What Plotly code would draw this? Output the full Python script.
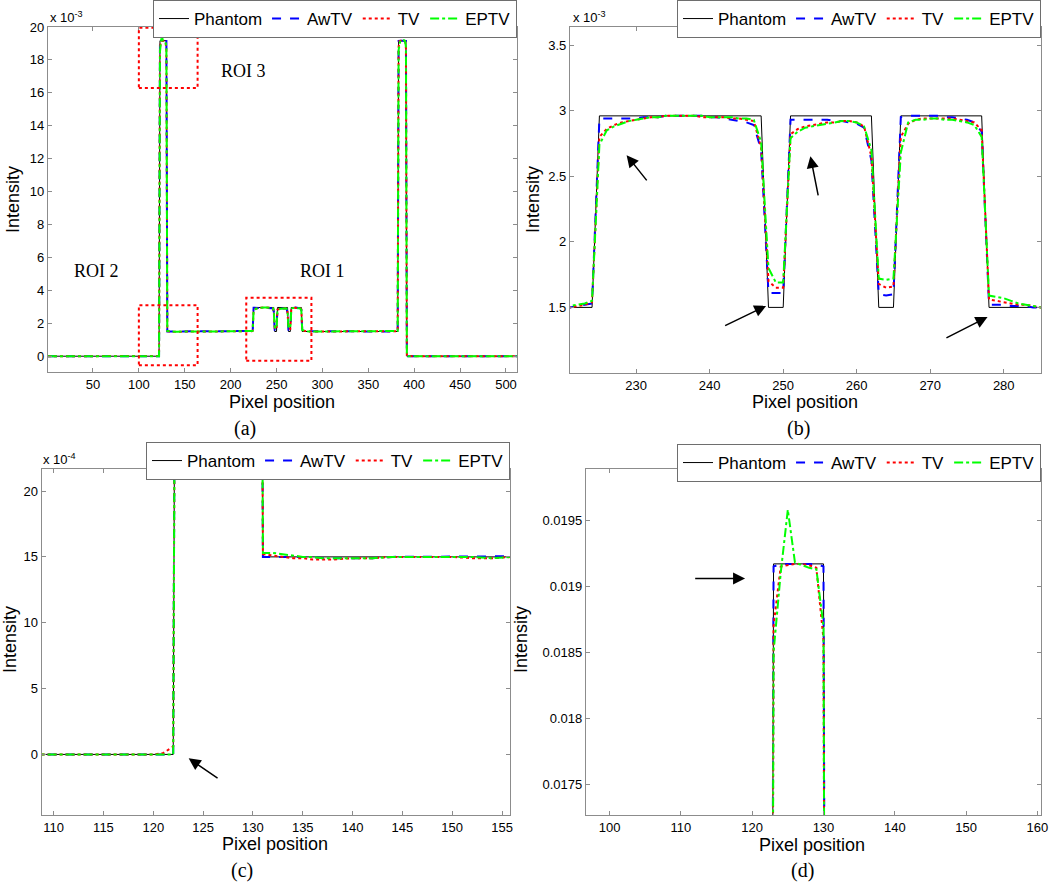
import numpy as np
import plotly.graph_objects as go

W, H = 1050, 882

# ---------------- data (intensity in units of 1e-3) ----------------
pix_left = [1, 50, 100, 110, 115, 118, 120, 121, 122]
pix_peak1 = [123, 124, 125, 126, 127, 128, 129, 130, 131]
pix_mid = [132, 133, 134, 135, 136, 137, 138, 140, 142, 144, 146, 148, 150, 152, 154, 156, 160, 180, 200, 215, 220]
pix_roi1 = list(range(221, 286))
pix_right = [290, 320, 350, 380, 381, 382, 383, 384, 385, 386, 387, 388, 389, 390, 391, 392, 393, 400, 450, 512]

phantom_left = [0, 0, 0, 0, 0, 0, 0, 0, 0]
awtv_left = [0, 0, 0, 0, 0, 0, 0, 0, 0]
tv_left = [0, 0, 0, 0, 0, 0, 0, 0.01, 0.06]
eptv_left = [0, 0, 0, 0, 0, 0, 0, 0, 0]

phantom_peak1 = [19.17, 19.17, 19.17, 19.17, 19.17, 19.17, 19.17, 19.17, 1.50]
awtv_peak1 = [19.15, 19.17, 19.17, 19.17, 19.17, 19.17, 19.17, 19.15, 1.50]
tv_peak1 = [18.70, 19.15, 19.16, 19.17, 19.17, 19.16, 19.14, 18.60, 1.52]
eptv_peak1 = [18.50, 19.10, 19.58, 19.18, 19.16, 19.14, 19.13, 18.70, 1.53]

phantom_mid = [1.50] * 21
awtv_mid = [1.50, 1.50, 1.50, 1.50, 1.50, 1.49, 1.49, 1.49, 1.49, 1.50, 1.50, 1.50, 1.50, 1.50, 1.50, 1.50, 1.50, 1.50, 1.50, 1.50, 1.50]
tv_mid = [1.51, 1.50, 1.49, 1.49, 1.48, 1.48, 1.48, 1.49, 1.49, 1.50, 1.50, 1.50, 1.50, 1.49, 1.49, 1.50, 1.50, 1.50, 1.50, 1.50, 1.50]
eptv_mid = [1.53, 1.52, 1.51, 1.50, 1.50, 1.49, 1.49, 1.49, 1.49, 1.50, 1.50, 1.50, 1.50, 1.50, 1.49, 1.50, 1.50, 1.50, 1.50, 1.50, 1.51]

phantom_roi1 = ([1.50] * 4 + [2.96] * 23 + [1.50] * 3 + [2.96] * 12 + [1.50] * 3 + [2.96] * 12 + [1.50] * 8)
awtv_roi1 = [1.50, 1.51, 1.52, 1.53, 2.94, 2.94, 2.94, 2.94, 2.94, 2.94, 2.95, 2.95, 2.95, 2.96, 2.96, 2.96,
             2.96, 2.96, 2.96, 2.95, 2.95, 2.94, 2.93, 2.92, 2.91, 2.89, 2.70, 1.61, 1.61, 1.61,
             2.93, 2.93, 2.93, 2.93, 2.93, 2.93, 2.92, 2.92, 2.91, 2.90, 2.87, 2.62, 1.60, 1.59, 1.60,
             2.95, 2.96, 2.96, 2.96, 2.96, 2.96, 2.95, 2.95, 2.94, 2.93, 2.91, 2.84,
             1.52, 1.52, 1.52, 1.51, 1.51, 1.51, 1.50, 1.50]
tv_roi1 = [1.50, 1.51, 1.52, 1.54, 2.80, 2.86, 2.89, 2.91, 2.92, 2.93, 2.94, 2.95, 2.95, 2.96, 2.96, 2.96,
           2.96, 2.96, 2.95, 2.95, 2.95, 2.95, 2.94, 2.94, 2.93, 2.92, 2.72, 1.70, 1.65, 1.65,
           2.82, 2.86, 2.88, 2.89, 2.90, 2.91, 2.91, 2.92, 2.92, 2.91, 2.88, 2.65, 1.68, 1.65, 1.66,
           2.80, 2.90, 2.93, 2.94, 2.94, 2.94, 2.94, 2.94, 2.93, 2.92, 2.91, 2.85,
           1.56, 1.55, 1.54, 1.53, 1.52, 1.52, 1.51, 1.50]
eptv_roi1 = [1.51, 1.52, 1.53, 1.55, 2.74, 2.85, 2.88, 2.90, 2.92, 2.93, 2.94, 2.95, 2.95, 2.96, 2.96, 2.96,
             2.96, 2.96, 2.96, 2.95, 2.95, 2.95, 2.95, 2.94, 2.94, 2.93, 2.76, 1.80, 1.69, 1.69,
             2.79, 2.84, 2.87, 2.88, 2.89, 2.90, 2.91, 2.92, 2.92, 2.91, 2.88, 2.70, 1.72, 1.71, 1.72,
             2.68, 2.91, 2.93, 2.93, 2.94, 2.94, 2.93, 2.93, 2.92, 2.91, 2.89, 2.80,
             1.59, 1.58, 1.57, 1.55, 1.53, 1.52, 1.51, 1.50]

phantom_right = [1.50, 1.50, 1.50, 1.50, 1.50, 1.50, 19.17, 19.17, 19.17, 19.17, 19.17, 19.17, 19.17, 19.17, 19.17, 0, 0, 0, 0, 0]
awtv_right = [1.50, 1.50, 1.50, 1.50, 1.50, 1.50, 19.15, 19.17, 19.17, 19.17, 19.17, 19.17, 19.17, 19.17, 19.15, 0, 0, 0, 0, 0]
tv_right = [1.50, 1.50, 1.50, 1.50, 1.50, 1.52, 18.80, 19.15, 19.17, 19.17, 19.17, 19.17, 19.17, 19.15, 18.70, 0.05, 0.01, 0, 0, 0]
eptv_right = [1.50, 1.50, 1.50, 1.50, 1.50, 1.53, 18.60, 19.10, 19.20, 19.20, 19.20, 19.20, 19.20, 19.15, 18.80, 0.05, 0, 0, 0, 0]

pixels = pix_left + pix_peak1 + pix_mid + pix_roi1 + pix_right
series = {
    "Phantom": phantom_left + phantom_peak1 + phantom_mid + phantom_roi1 + phantom_right,
    "AwTV": awtv_left + awtv_peak1 + awtv_mid + awtv_roi1 + awtv_right,
    "TV": tv_left + tv_peak1 + tv_mid + tv_roi1 + tv_right,
    "EPTV": eptv_left + eptv_peak1 + eptv_mid + eptv_roi1 + eptv_right,
}
UNIT = 1e-3

styles = {
    "Phantom": dict(color="#000000", width=1, dash="solid"),
    "AwTV": dict(color="#0000ff", width=2, dash="dash"),
    "TV": dict(color="#ff0000", width=2, dash="dot"),
    "EPTV": dict(color="#00ff00", width=2, dash="dashdot"),
}

# tick labels
a_xticks = [50, 100, 150, 200, 250, 300, 350, 400, 450, 500]
a_yticks = [0, 2, 4, 6, 8, 10, 12, 14, 16, 18, 20]          # x 1e-3
b_xticks = [230, 240, 250, 260, 270, 280]
b_yticks = [1.5, 2, 2.5, 3, 3.5]                            # x 1e-3
c_xticks = [110, 115, 120, 125, 130, 135, 140, 145, 150, 155]
c_yticks = [0, 5, 10, 15, 20]                               # x 1e-4
d_xticks = [100, 110, 120, 130, 140, 150, 160]
d_yticks = [0.0175, 0.018, 0.0185, 0.019, 0.0195]

# ROI boxes in panel (a): (x0, x1, y0, y1) in pixel / 1e-3 units
roi_boxes = [(100, 164, 16.3, 19.95), (100, 164, -0.55, 3.1), (217, 288, -0.28, 3.55)]
roi_labels = [("ROI 3", 214, 17.3), ("ROI 2", 54, 5.2), ("ROI 1", 300, 5.2)]


def fx(p):
    return p / W


def fy(p):
    return 1 - p / H


fig = go.Figure()

panels = [
    ("a", "x", "y", "legend", (48, 517), (27, 372), [1, 512], [-0.00096, 0.0200]),
    ("b", "x2", "y2", "legend2", (570, 1041), (27.3, 373), [221, 285.07], [0.0010, 0.003635]),
    ("c", "x3", "y3", "legend3", (41.7, 510), (469.3, 815), [108.8, 155.8], [-0.00046, 0.002165]),
    ("d", "x4", "y4", "legend4", (586, 1041), (469, 815), [96.7, 160.5], [0.017267, 0.019889]),
]

legend_pos = {
    "legend": (517, 0),
    "legend2": (1041, 0),
    "legend3": (510, 442),
    "legend4": (1041, 444),
}

tick_sets = {
    "a": (a_xticks, [str(v) for v in a_xticks], [v * 1e-3 for v in a_yticks], [str(v) for v in a_yticks]),
    "b": (b_xticks, [str(v) for v in b_xticks], [v * 1e-3 for v in b_yticks], [("%g" % v) for v in b_yticks]),
    "c": (c_xticks, [str(v) for v in c_xticks], [v * 1e-4 for v in c_yticks], [str(v) for v in c_yticks]),
    "d": (d_xticks, [str(v) for v in d_xticks], d_yticks, [("%g" % v) for v in d_yticks]),
}

FONT = "Liberation Sans, Arial, sans-serif"
SERIF = "Liberation Serif, Times New Roman, serif"

layout = dict(
    width=W, height=H, margin=dict(l=0, r=0, t=0, b=0, autoexpand=False),
    paper_bgcolor="white", plot_bgcolor="white",
    font=dict(family=FONT, size=13, color="black"),
    showlegend=True,
)

for name, xa, ya, lg, (x0, x1), (yt, yb), xr, yr in panels:
    for sname in ["Phantom", "AwTV", "TV", "EPTV"]:
        fig.add_trace(go.Scatter(
            x=pixels, y=np.array(series[sname]) * UNIT, mode="lines", name=sname,
            line=styles[sname], xaxis=xa, yaxis=ya, legend=lg, hoverinfo="skip",
        ))
    xk = "xaxis" if xa == "x" else "xaxis" + xa[1:]
    yk = "yaxis" if ya == "y" else "yaxis" + ya[1:]
    xt, xtt, yt_, ytt = tick_sets[name]
    axcommon = dict(showline=True, linecolor="#8c8c8c", linewidth=1.2, mirror="ticks",
                    ticks="inside", ticklen=4, tickcolor="#8c8c8c", showgrid=False,
                    zeroline=False, tickfont=dict(family=FONT, size=13, color="black"))
    layout[xk] = dict(domain=[fx(x0), fx(x1)], range=xr, anchor=ya, tickvals=xt, ticktext=xtt, **axcommon)
    layout[yk] = dict(domain=[fy(yb), fy(yt)], range=yr, anchor=xa, tickvals=yt_, ticktext=ytt, **axcommon)
    lx, ly = legend_pos[lg]
    layout[lg] = dict(orientation="h", x=fx(lx), y=fy(ly), xanchor="right", yanchor="top",
                      bgcolor="white", bordercolor="#6e6e6e", borderwidth=1,
                      font=dict(family=FONT, size=17, color="black"),
                      itemwidth=30, tracegroupgap=0)

fig.update_layout(**layout)

annotations = []
for (cx, cy, txt) in [(281.7, 401.7, "Pixel position"), (805, 402, "Pixel position"),
                      (275, 844, "Pixel position"), (812.3, 845, "Pixel position")]:
    annotations.append(dict(x=fx(cx), y=fy(cy), xref="paper", yref="paper", text=txt, showarrow=False,
                            xanchor="center", yanchor="middle", font=dict(family=FONT, size=18, color="black")))
for (cx, cy) in [(13, 200), (533, 200), (10, 640), (521, 640)]:
    annotations.append(dict(x=fx(cx), y=fy(cy), xref="paper", yref="paper", text="Intensity", showarrow=False,
                            textangle=-90, xanchor="center", yanchor="middle",
                            font=dict(family=FONT, size=18, color="black")))
for (cx, cy, txt) in [(245, 428.3, "(a)"), (798.3, 428, "(b)"), (241.7, 870.7, "(c)"), (802.3, 870, "(d)")]:
    annotations.append(dict(x=fx(cx), y=fy(cy), xref="paper", yref="paper", text=txt, showarrow=False,
                            xanchor="center", yanchor="middle", font=dict(family=SERIF, size=20, color="black")))
for (cx, cy, txt) in [(48, 17, "x 10<sup>-3</sup>"), (571, 17, "x 10<sup>-3</sup>"), (41, 459, "x 10<sup>-4</sup>")]:
    annotations.append(dict(x=fx(cx), y=fy(cy), xref="paper", yref="paper", text=txt, showarrow=False,
                            xanchor="left", yanchor="middle", font=dict(family=FONT, size=13, color="black")))
for (txt, xv, yv) in roi_labels:
    annotations.append(dict(x=xv, y=yv * UNIT, xref="x", yref="y", text=txt, showarrow=False,
                            xanchor="center", yanchor="middle", font=dict(family=SERIF, size=18, color="black")))
arrows = [
    ("x2", "y2", 228.7, 2.66e-3, 231.6, 2.457e-3),
    ("x2", "y2", 253.7, 2.653e-3, 254.8, 2.343e-3),
    ("x2", "y2", 247.7, 1.513e-3, 241.9, 1.356e-3),
    ("x2", "y2", 277.8, 1.427e-3, 272.0, 1.262e-3),
    ("x3", "y3", 123.55, -0.3e-4, 126.6, -1.88e-4),
    ("x4", "y4", 119.0, 0.01906, 111.8, 0.01906),
]
for xr_, yr_, hx, hy, tx, ty in arrows:
    annotations.append(dict(x=hx, y=hy, xref=xr_, yref=yr_, ax=tx, ay=ty, axref=xr_, ayref=yr_,
                            text="", showarrow=True, arrowhead=2, arrowsize=1.6, arrowwidth=1.5,
                            arrowcolor="black"))
fig.update_layout(annotations=annotations)

for (x0, x1, y0, y1) in roi_boxes:
    fig.add_shape(type="rect", xref="x", yref="y", x0=x0, x1=x1, y0=y0 * UNIT, y1=y1 * UNIT,
                  line=dict(color="#ff0000", width=2, dash="dot"))

fig.write_html("out.html", config={"displayModeBar": False},
               post_script="document.body.style.margin='0px';")
